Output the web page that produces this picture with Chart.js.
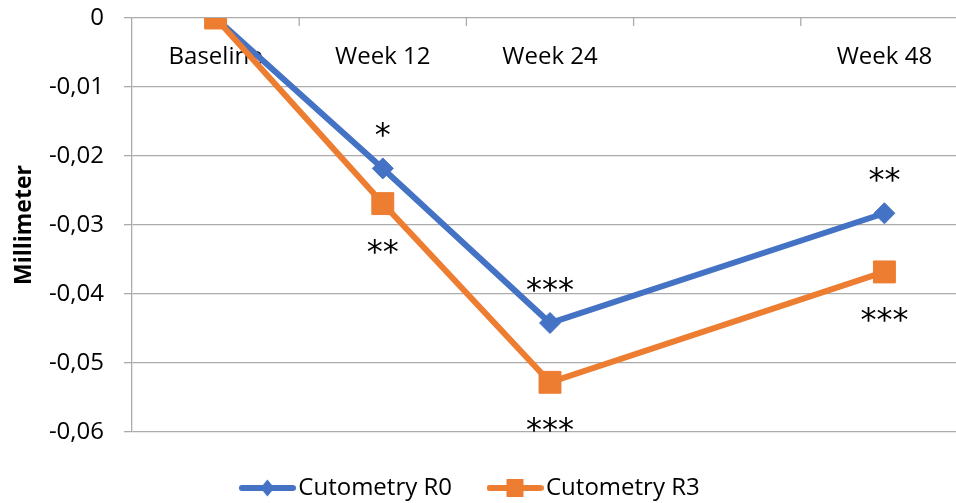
<!DOCTYPE html>
<html>
<head>
<meta charset="utf-8">
<script src="https://cdn.jsdelivr.net/npm/chart.js@4/dist/chart.umd.min.js"></script>
<style>
  html, body { margin: 0; padding: 0; background: #fff; overflow: hidden; }
  /* canvas shifted a bit left so the legend sits where Excel put it */
  #wrap { position: absolute; left: -20px; top: 0; width: 988px; height: 510px; }
</style>
</head>
<body>
<div id="wrap"><canvas id="chart"></canvas></div>
<script>
// Data

const weeks = ['Baseline', 'Week 12', 'Week 24', '', 'Week 48'];

const cutometryR0 = [0, -0.0218, -0.0442, null, -0.0283];

const cutometryR3 = [0, -0.0269, -0.0528, null, -0.0368];

const starsR0 = ['', '*', '***', '', '**'];   // above the blue line

const starsR3 = ['', '**', '***', '', '***']; // below the orange line

const yMin = -0.06, yMax = 0, yStep = 0.01;

// Styles

const blue = '#4472C4';
const orange = '#ED7D31';
const gridColor = '#ababab';
const fontFamily = '"Open Sans", sans-serif';

// Legend icon: line with the marker in the middle
function legendIcon(color, shape) {
  const c = document.createElement('canvas');
  c.width = 57;
  c.height = 22;
  const g = c.getContext('2d');
  g.strokeStyle = color;
  g.fillStyle = color;
  g.lineWidth = 6;
  g.lineCap = 'round';
  g.beginPath();
  g.moveTo(3, 11);
  g.lineTo(54, 11);
  g.stroke();
  g.beginPath();
  if (shape === 'diamond') {
    g.moveTo(28.5, 2.5);
    g.lineTo(35.5, 11);
    g.lineTo(28.5, 19.5);
    g.lineTo(21.5, 11);
    g.closePath();
  } else {
    g.rect(20, 2, 17, 18);
  }
  g.fill();
  return c;
}

const icons = [legendIcon(blue, 'diamond'), legendIcon(orange, 'square')];

// Category names sit inside the plot under the top axis, plus the little tick marks
const weekLabels = {
  id: 'weekLabels',
  beforeDatasetsDraw(chart) {
    const { ctx, chartArea } = chart;
    const x = chart.scales.x;
    const half = (x.getPixelForValue(1) - x.getPixelForValue(0)) / 2;
    ctx.save();
    ctx.strokeStyle = gridColor;
    ctx.lineWidth = 1.3;
    for (let i = 0; i < weeks.length - 1; i++) {
      const px = x.getPixelForValue(i) + half;
      ctx.beginPath();
      ctx.moveTo(px, chartArea.top);
      ctx.lineTo(px, chartArea.top + 8);
      ctx.stroke();
    }
    ctx.font = '24px ' + fontFamily;
    ctx.fillStyle = '#000';
    ctx.textAlign = 'center';
    ctx.textBaseline = 'middle';
    weeks.forEach(function (w, i) {
      if (w) ctx.fillText(w, x.getPixelForValue(i), chartArea.top + 39);
    });
    ctx.restore();
  }
};

// Significance stars
const starLabels = {
  id: 'starLabels',
  afterDatasetsDraw(chart) {
    const ctx = chart.ctx;
    ctx.save();
    ctx.font = '32px "DejaVu Sans"';
    ctx.fillStyle = '#000';
    ctx.textAlign = 'center';
    ctx.textBaseline = 'alphabetic';
    [[starsR0, 0, -37], [starsR3, 1, 44]].forEach(function ([stars, d, dy]) {
      const meta = chart.getDatasetMeta(d);
      stars.forEach(function (s, i) {
        if (!s) return;
        const pt = meta.data[i];
        ctx.fillText(s, pt.x, pt.y + dy + 14);
      });
    });
    ctx.restore();
  }
};

const ctx = document.getElementById('chart');

let cutometryChart = new Chart(ctx, {
  type: 'line',
  data: {
    labels: weeks,
    datasets: [
      {
        label: 'Cutometry R0',
        data: cutometryR0,
        borderColor: blue,
        backgroundColor: blue,
        borderWidth: 6,
        pointStyle: 'rectRot',
        pointRadius: 10.5,
        pointBorderWidth: 1,
        spanGaps: true,
        order: 1
      },
      {
        label: 'Cutometry R3',
        data: cutometryR3,
        borderColor: orange,
        backgroundColor: orange,
        borderWidth: 6,
        pointStyle: 'rect',
        pointRadius: 15.5,
        pointBorderWidth: 1,
        spanGaps: true,
        order: 0
      }
    ]
  },
  options: {
    responsive: true,
    maintainAspectRatio: false,
    animation: false,
    events: [],
    layout: { autoPadding: false, padding: { top: 18, right: 0, bottom: 0, left: 0 } },
    scales: {
      x: {
        type: 'category',
        display: false,
        offset: true
      },
      y: {
        min: yMin,
        max: yMax,
        afterFit: function (scale) {
          scale.width = 152;
          // tick padding would otherwise push the plot down
          scale.paddingTop = 0;
          scale.paddingBottom = 0;
        },
        ticks: {
          stepSize: yStep,
          padding: 20,
          color: '#000',
          font: { family: fontFamily, size: 24 },
          callback: function (v) { return v === 0 ? '0' : v.toFixed(2).replace('.', ','); }
        },
        grid: { color: gridColor, lineWidth: 1.3, tickLength: 8 },
        border: { display: true, color: gridColor, width: 1.3 },
        title: {
          display: true,
          text: 'Millimeter',
          color: '#000',
          font: { family: fontFamily, size: 23, weight: 'bold' },
          padding: { top: 31, bottom: 0 }
        }
      }
    },
    plugins: {
      tooltip: { enabled: false },
      legend: {
        position: 'bottom',
        labels: {
          usePointStyle: true,
          pointStyleWidth: 38,
          padding: 44,
          color: '#000',
          font: { family: fontFamily, size: 24 },
          generateLabels: function (chart) {
            return chart.data.datasets.map(function (ds, i) {
              return { text: ds.label, pointStyle: icons[i], datasetIndex: i, hidden: false, lineWidth: 0, fontColor: '#000' };
            });
          }
        }
      }
    }
  },
  plugins: [weekLabels, starLabels]
});
</script>
</body>
</html>
